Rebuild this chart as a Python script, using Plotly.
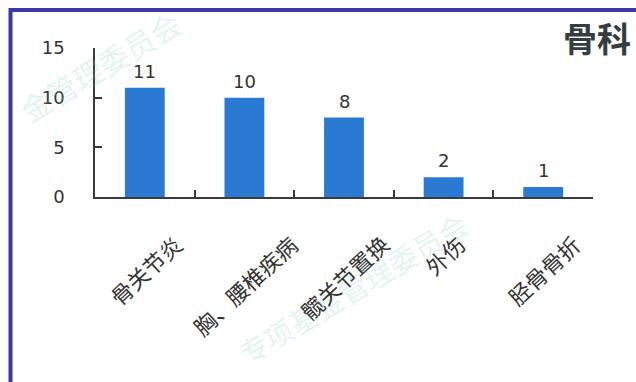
import plotly.graph_objects as go

# Orthopaedics case counts by diagnosis
categories = ["骨关节炎", "胸、腰椎疾病", "髋关节置换", "外伤", "胫骨骨折"]
counts = [11, 10, 8, 2, 1]
y_ticks = [0, 5, 10, 15]
title_text = "骨科"
watermark_lower = "专项基金管理委员会"
watermark_upper = "金管理委员会"

W, H = 636, 382
L, R, T, B = 95, 43, 48, 185
PW, PH = W - L - R, H - T - B


def px_x(px):
    """Convert a pixel column to paper x."""
    return (px - L) / PW


def px_y(py):
    """Convert a pixel row to paper y."""
    return (H - B - py) / PH


CJK = "Noto Sans CJK SC"
NUM = "DejaVu Sans"
TXT = "#333333"

fig = go.Figure()
fig.add_trace(go.Bar(
    x=categories,
    y=counts,
    width=0.4,
    marker=dict(color="#2a79d3", line=dict(width=0)),
    hoverinfo="skip",
))

annotations = []

# faint diagonal watermark (drawn first so it sits underneath)
for txt, cx, cy, size in [(watermark_lower, 352, 288, 29),
                          (watermark_upper, 100, 66, 30)]:
    annotations.append(dict(
        x=px_x(cx), y=px_y(cy), xref="paper", yref="paper",
        text=txt, showarrow=False, textangle=-31,
        xanchor="center", yanchor="middle",
        font=dict(family=CJK, size=size, color="rgba(120,205,180,0.22)"),
    ))

# value labels above each bar
for c, v in zip(categories, counts):
    annotations.append(dict(
        x=c, y=v, xref="x", yref="y", text=str(v), showarrow=False,
        yanchor="bottom", xanchor="center", yshift=4,
        font=dict(family=NUM, size=18, color=TXT),
    ))

# rotated category labels under the axis
for c in categories:
    annotations.append(dict(
        x=c, y=0, xref="x", yref="y", text=c, showarrow=False,
        xanchor="center", yanchor="top", yshift=-28, textangle=-43,
        font=dict(family=CJK, size=22, color=TXT),
    ))

# heading in the top-right corner
annotations.append(dict(
    x=px_x(633), y=px_y(37), xref="paper", yref="paper",
    text="<b>" + title_text + "</b>", showarrow=False,
    xanchor="right", yanchor="middle",
    font=dict(family=CJK, size=34, color="#343d40"),
))

# frame along the left and top edges
shapes = [dict(
    type="rect", xref="paper", yref="paper", layer="above",
    x0=px_x(10.5), x1=px_x(W + 20), y0=px_y(H + 20), y1=px_y(10),
    line=dict(color="#3a38a6", width=4), fillcolor="rgba(0,0,0,0)",
)]

fig.update_layout(
    width=W, height=H,
    margin=dict(l=L, r=R, t=T, b=B, pad=0),
    paper_bgcolor="white", plot_bgcolor="white",
    showlegend=False,
    bargap=0.6,
    annotations=annotations,
    shapes=shapes,
    xaxis=dict(
        type="category",
        showline=True, linecolor="#3a3a3a", linewidth=1.5,
        ticks="inside", tickson="boundaries", ticklen=7,
        tickcolor="#3a3a3a", tickwidth=1.5,
        showticklabels=False, showgrid=False, zeroline=False,
    ),
    yaxis=dict(
        range=[0, 15], tickvals=y_ticks,
        showline=True, linecolor="#3a3a3a", linewidth=1.5,
        ticks="inside", ticklen=7, tickcolor="#3a3a3a", tickwidth=1.5,
        ticklabelstandoff=25,
        tickfont=dict(family=NUM, size=18, color=TXT),
        showgrid=False, zeroline=False,
    ),
)

fig.write_html("out.html")
